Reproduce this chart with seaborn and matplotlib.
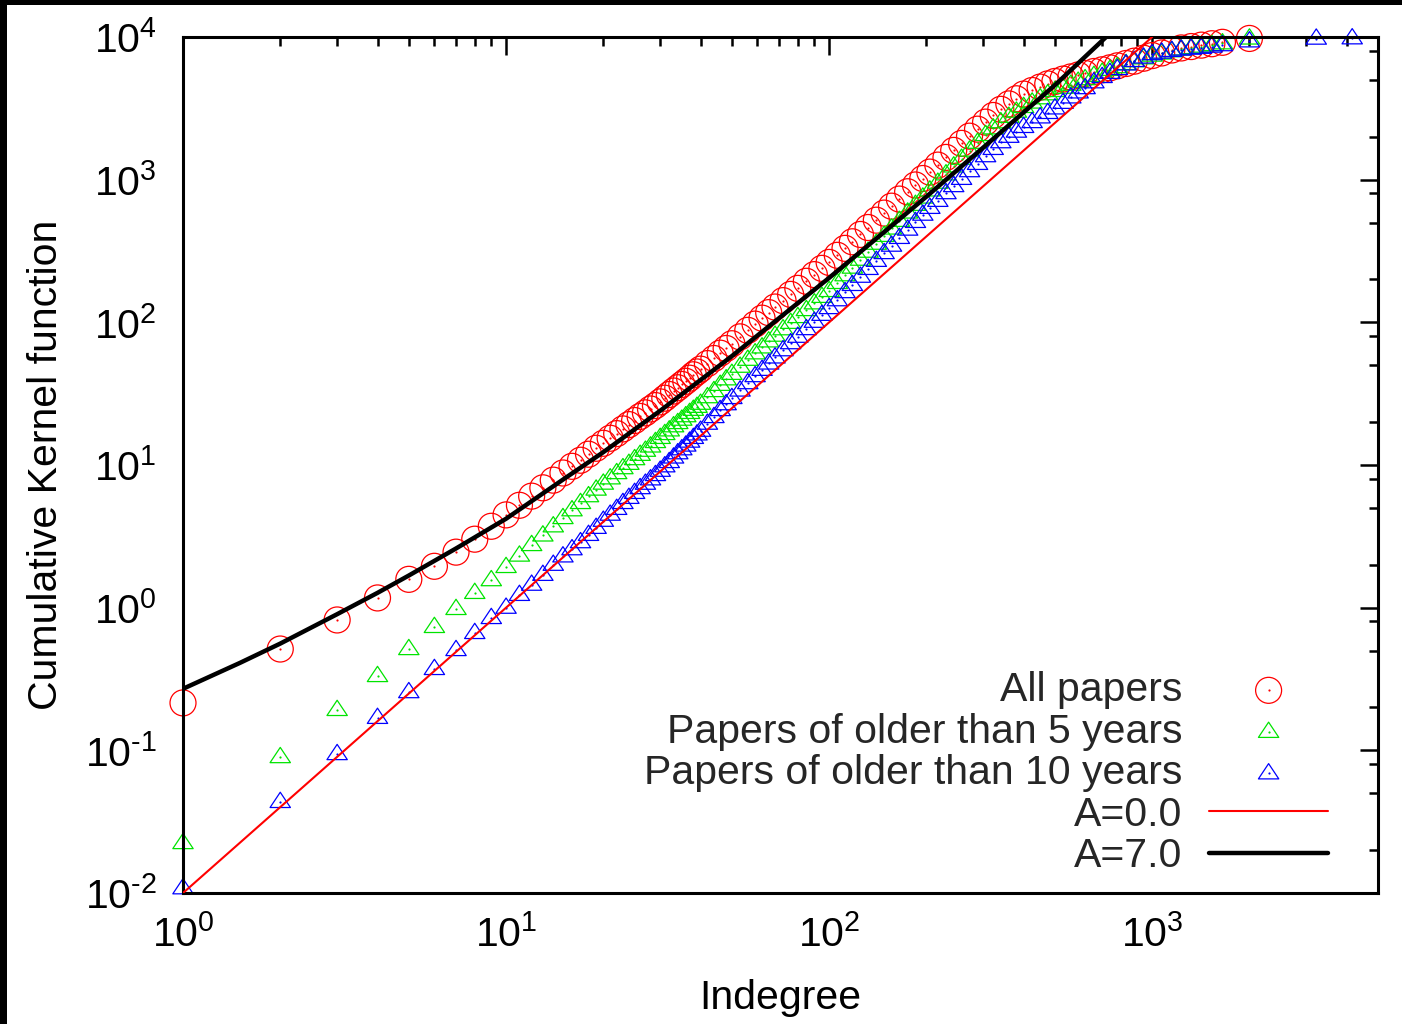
import numpy as np
import pandas as pd
import matplotlib
matplotlib.use("Agg")
import matplotlib.pyplot as plt
import seaborn as sns
from matplotlib.ticker import LogLocator, FuncFormatter, NullFormatter
from matplotlib.patches import Rectangle
from matplotlib.legend_handler import HandlerTuple
from matplotlib.path import Path

# ---------------- data ----------------
X_INT = list(range(1, 41))
X_HI = [42, 44, 46, 48, 50, 53, 56, 59, 62, 65, 68, 72, 76, 80, 85, 90, 95, 100,
        106, 112, 118, 125, 132, 140, 148, 156, 165, 175, 185, 195, 205, 217, 230,
        243, 257, 272, 288, 305, 322, 340, 360, 380, 400, 425, 450, 475, 500, 530,
        560, 590, 620, 660, 700, 740, 780, 830, 880, 940, 1000, 1070, 1150, 1230,
        1320, 1420, 1530, 1650, 2000]
X_DATA = X_INT + X_HI
X_BLUE = X_DATA + [3220, 4160]

Y_ALL = [0.215, 0.513, 0.820, 1.17, 1.58, 1.95, 2.45, 3.02, 3.72, 4.47,
         5.22, 6.05, 6.92, 7.83, 8.79, 9.79, 10.8, 11.9, 13.1, 14.2,
         15.4, 16.6, 17.9, 19.2, 20.5, 21.9, 23.2, 24.7, 26.1, 27.7,
         29.4, 31.2, 33.0, 34.8, 36.7, 38.6, 40.6, 42.9, 44.9, 47.0,
         51.4, 55.8, 60.8, 65.6, 70.8, 79.1, 87.9, 97.2, 107, 117, 128, 142, 157,
         173, 194, 216, 239, 263, 295, 330, 367, 413, 462, 520, 583, 652, 731, 823,
         918, 1019, 1130, 1265, 1432, 1604, 1796, 2018, 2259, 2531, 2818, 3112,
         3396, 3690, 3981, 4217, 4457, 4690, 4880, 5070, 5250, 5420, 5550, 5730,
         5890, 6080, 6280, 6520, 6770, 7100, 7410, 7730, 8110, 8380, 8570, 8770,
         8970, 9180, 9770]

Y_OLD5 = [0.0224, 0.0897, 0.192, 0.332, 0.513, 0.733, 0.980, 1.27, 1.56, 1.93,
          2.32, 2.75, 3.21, 3.72, 4.25, 4.82, 5.42, 6.05, 6.73, 7.41,
          8.07, 8.78, 9.51, 10.2, 11.0, 11.8, 12.6, 13.5, 14.5, 15.5,
          16.5, 17.5, 18.7, 19.7, 20.8, 22.0, 23.2, 24.4, 25.6, 26.9,
          29.9, 33.0, 36.5, 39.9, 43.6, 48.9, 54.7, 60.7, 66.8, 73.6, 80.7, 89.5,
          99.3, 109, 122, 136, 151, 166, 189, 214, 242, 275, 313, 356, 404, 455,
          515, 589, 667, 750, 841, 953, 1091, 1239, 1403, 1600, 1816, 2058, 2291,
          2529, 2761, 3000, 3236, 3475, 3724, 3972, 4188, 4416, 4634, 4864, 5070,
          5346, 5623, 5888, 6152, 6471, 6770, 7096, 7413, 7670, 7960, 8190, 8380,
          8570, 8790, 9040, 9770]

Y_OLD10 = [0.0108, 0.0435, 0.0942, 0.169, 0.256, 0.372, 0.505, 0.665, 0.847, 1.00,
           1.23, 1.45, 1.70, 2.00, 2.29, 2.57, 2.88, 3.24, 3.63, 4.07,
           4.49, 4.93, 5.42, 5.89, 6.38, 6.89, 7.40, 7.94, 8.51, 9.12,
           9.80, 10.5, 11.3, 12.1, 12.9, 13.7, 14.6, 15.5, 16.4, 17.4,
           19.5, 21.7, 24.3, 26.7, 29.5, 33.3, 37.5, 42.0, 46.5, 51.5, 56.8, 63.8,
           71.5, 79.3, 89.7, 101, 113, 126, 143, 163, 183, 209, 237, 270, 306, 345,
           391, 447, 506, 569, 635, 711, 805, 902, 1014, 1148, 1291, 1462, 1644,
           1832, 2000, 2173, 2344, 2535, 2735, 2938, 3162, 3459, 3776, 4093, 4385,
           4819, 5248, 5610, 5970, 6430, 6800, 7190, 7590, 7780, 8000, 8170, 8290,
           8410, 8570, 8770, 9330, 9750, 9800]

X_A0 = [1, 1000]
Y_A0 = [0.01, 10000]

X_A7 = [1, 1.5, 2, 3, 4, 5, 7, 10, 15, 20, 30, 50, 70, 100, 150, 200, 300, 500, 720, 800]
Y_A7 = [0.27, 0.41, 0.56, 0.90, 1.27, 1.68, 2.6, 4.2, 7.9, 12.3, 24, 58, 107, 205, 440,
        760, 1680, 4600, 10000, 12300]

LABELS = ["All papers", "Papers of older than 5 years", "Papers of older than 10 years",
          "A=0.0", "A=7.0"]

# ---------------- style ----------------
sns.set_style("white")
plt.rcParams["font.family"] = ["Liberation Sans", "DejaVu Sans"]
plt.rcParams["mathtext.fontset"] = "custom"
plt.rcParams["mathtext.rm"] = "Liberation Sans"
plt.rcParams["mathtext.it"] = "Liberation Sans:italic"
plt.rcParams["mathtext.bf"] = "Liberation Sans:bold"
plt.rcParams["mathtext.default"] = "regular"

FS = 29.5
RED, GREEN, BLUE = "#ff0000", "#00e400", "#0000ff"

fig = plt.figure(figsize=(14.02, 10.24), dpi=100)
ax = fig.add_axes([183 / 1402, 1 - 893 / 1024, (1378 - 183) / 1402, (893 - 37) / 1024])
ax.set_facecolor("white")

tri = Path([(-1, -0.55), (1, -0.55), (0, 0.95), (-1, -0.55)],
           [Path.MOVETO, Path.LINETO, Path.LINETO, Path.CLOSEPOLY])

df_all = pd.DataFrame({"x": X_DATA, "y": Y_ALL})
df_5 = pd.DataFrame({"x": X_DATA, "y": Y_OLD5})
df_10 = pd.DataFrame({"x": X_BLUE, "y": Y_OLD10})

handles = []
for df, col, mk, size in [(df_all, RED, "o", 350), (df_5, GREEN, tri, 215), (df_10, BLUE, tri, 215)]:
    sns.scatterplot(data=df, x="x", y="y", ax=ax, marker=mk, s=size,
                    facecolor="none", edgecolor=col, linewidth=0.9,
                    clip_on=False, legend=False, zorder=2)
    h1 = ax.collections[-1]
    sns.scatterplot(data=df, x="x", y="y", ax=ax, marker="o", s=2.5,
                    color=col, linewidth=0, clip_on=False, legend=False, zorder=2)
    h2 = ax.collections[-1]
    handles.append((h1, h2))

sns.lineplot(x=X_A0, y=Y_A0, ax=ax, color=RED, linewidth=1.5, sort=False,
             estimator=None, zorder=3)
handles.append(ax.lines[-1])
sns.lineplot(x=X_A7, y=Y_A7, ax=ax, color="black", linewidth=3.2, sort=False,
             estimator=None, zorder=4)
handles.append(ax.lines[-1])

ax.set_xscale("log")
ax.set_yscale("log")
ax.set_xlim(1, 5000)
ax.set_ylim(0.01, 1e4)

ax.xaxis.set_major_locator(LogLocator(base=10, numticks=20))
ax.xaxis.set_minor_locator(LogLocator(base=10, subs=np.arange(2, 10), numticks=20))
ax.yaxis.set_major_locator(LogLocator(base=10, numticks=20))
ax.yaxis.set_minor_locator(LogLocator(base=10, subs=[2, 5, 8], numticks=20))


def fmt_pow(v, p):
    e = int(round(np.log10(v)))
    if e < 0:
        return r"$10^{\text{-}%d}$" % (-e)
    return r"$10^{%d}$" % e


fmt = FuncFormatter(fmt_pow)
ax.xaxis.set_major_formatter(fmt)
ax.yaxis.set_major_formatter(fmt)
ax.xaxis.set_minor_formatter(NullFormatter())
ax.yaxis.set_minor_formatter(NullFormatter())

ax.tick_params(which="both", direction="in", top=True, right=True, color="black",
               width=1.8, labelsize=FS, labelcolor="black")
ax.tick_params(which="major", length=13)
ax.tick_params(which="minor", length=6.5)
ax.tick_params(axis="y", which="major", pad=19)
ax.tick_params(axis="x", which="major", pad=16)
for sp in ax.spines.values():
    sp.set_linewidth(2.2)
    sp.set_color("black")

ax.set_xlabel("Indegree", fontsize=FS, color="black", labelpad=17)
ax.set_ylabel("Cumulative Kernel function", fontsize=FS, color="black", labelpad=14)

leg = ax.legend(handles, LABELS, loc="lower right", frameon=False, markerfirst=False,
                handler_map={tuple: HandlerTuple(ndivide=1, pad=0)}, scatterpoints=1,
                handlelength=2.9, handletextpad=0.65, labelspacing=0.085,
                borderaxespad=0.0, borderpad=0.5, fontsize=FS,
                bbox_to_anchor=(1 - 29.5 / 1195, -2.5 / 856))
for colbox in leg._legend_handle_box.get_children():
    colbox.align = "right"

fig.add_artist(Rectangle((0, 1 - 5 / 1024), 1, 5 / 1024, transform=fig.transFigure,
                         facecolor="black", edgecolor="none", zorder=10))
fig.add_artist(Rectangle((0, 0), 7 / 1402, 1, transform=fig.transFigure,
                         facecolor="black", edgecolor="none", zorder=10))

fig.savefig("out.png", dpi=100, facecolor="white")
